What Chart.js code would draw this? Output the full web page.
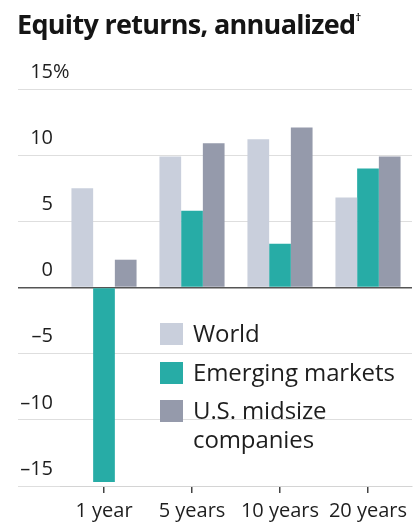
<!DOCTYPE html>
<html>
<head>
<meta charset="utf-8">
<script src="https://cdn.jsdelivr.net/npm/chart.js@4"></script>
<style>
  html, body { margin: 0; padding: 0; background: #fff; }
  #wrap { position: relative; width: 418px; height: 525px; }
  #title {
    position: absolute; left: 17px; top: 5px;
    font: bold 27px "Open Sans", sans-serif; letter-spacing: -0.7px;
    color: #151515; white-space: nowrap;
  }
  #title sup { font-size: 11px; vertical-align: 13px; }
  #legend {
    position: absolute; left: 160px; top: 321px;
    font: 24px "Open Sans", sans-serif; color: #1e1e1e; letter-spacing: -0.1px;
  }
  .item { display: flex; align-items: flex-start; margin-bottom: 12.5px; }
  .box { width: 23px; height: 22px; margin-right: 10px; margin-top: 2px; flex: none; }
  .txt { line-height: 29px; margin-top: -3px; }
</style>
</head>
<body>
<div id="wrap">
  <canvas id="chart" width="418" height="525"></canvas>
  <div id="title">Equity returns, annualized<sup>†</sup></div>
  <div id="legend"></div>
</div>
<script>
// Periods and annualized returns (%)
const periods = ['1 year', '5 years', '10 years', '20 years'];
const world = [7.5, 9.9, 11.2, 6.8];
const emerging = [-14.7, 5.8, 3.3, 9.0];
const midsize = [2.1, 10.9, 12.1, 9.9];
const yTicks = [15, 10, 5, 0, -5, -10, -15];

const seriesNames = ['World', 'Emerging markets', 'U.S. midsize companies'];
const seriesColors = ['#c9cfdc', '#27aca6', '#959aab'];

// y labels sit above their gridlines, right-aligned, with the % hanging
const yLabelPlugin = {
  id: 'yLabels',
  afterDraw(chart) {
    const { ctx, scales: { y } } = chart;
    ctx.save();
    ctx.font = '20px "Open Sans", sans-serif';
    ctx.fillStyle = '#1e1e1e';
    ctx.textBaseline = 'middle';
    yTicks.forEach(v => {
      const py = y.getPixelForValue(v) - 17;
      const txt = v < 0 ? '\u2013' + Math.abs(v) : String(v);
      ctx.textAlign = 'right';
      ctx.fillText(txt, 53, py);
      if (v === 15) {
        ctx.textAlign = 'left';
        ctx.fillText('%', 53, py);
      }
    });
    ctx.restore();
  }
};

const chart = new Chart(document.getElementById('chart'), {
  type: 'bar',
  data: {
    labels: periods,
    datasets: [world, emerging, midsize].map((d, i) => ({
      label: seriesNames[i],
      data: d,
      backgroundColor: seriesColors[i],
      borderWidth: 0,
      categoryPercentage: 0.74,
      barPercentage: 1.0
    }))
  },
  options: {
    responsive: false,
    animation: false,
    layout: { padding: { left: 18, right: 6, top: 89, bottom: 0 } },
    plugins: {
      legend: { display: false },
      tooltip: { enabled: false }
    },
    scales: {
      x: {
        afterFit: s => { s.height = 39; },
        grid: {
          display: true, drawOnChartArea: false, offset: false,
          tickLength: 7, color: '#444', lineWidth: 1.5
        },
        border: { display: true, color: '#d4d4d4' },
        ticks: {
          padding: 6,
          color: '#1e1e1e',
          font: { family: '"Open Sans", sans-serif', size: 20 }
        }
      },
      y: {
        min: -15, max: 15,
        ticks: { stepSize: 5, display: false },
        grid: {
          tickLength: 42,
          color: c => c.tick && c.tick.value === 0 ? '#555' : '#dedede',
          lineWidth: c => c.tick && c.tick.value === 0 ? 1.6 : 1
        },
        border: { display: false }
      }
    }
  },
  plugins: [yLabelPlugin]
});

// legend built from the datasets
const legend = document.getElementById('legend');
chart.data.datasets.forEach(ds => {
  const row = document.createElement('div');
  row.className = 'item';
  const box = document.createElement('div');
  box.className = 'box';
  box.style.background = ds.backgroundColor;
  const txt = document.createElement('div');
  txt.className = 'txt';
  txt.innerHTML = ds.label === 'U.S. midsize companies' ? 'U.S. midsize<br>companies' : ds.label;
  row.appendChild(box);
  row.appendChild(txt);
  legend.appendChild(row);
});
</script>
</body>
</html>
